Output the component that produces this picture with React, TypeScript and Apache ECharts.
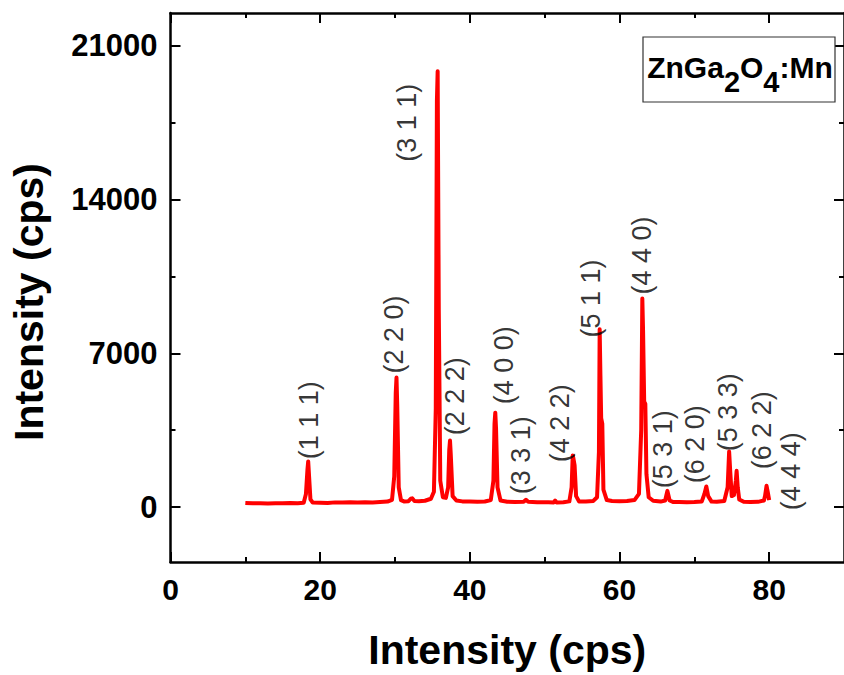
import React, { useEffect, useRef } from "react";
import * as echarts from "echarts";

// 2θ (deg) and intensity (cps)
const angles = [
  10.0, 11.0, 12.0, 13.0, 14.0, 15.0, 16.0, 17.0, 17.8, 18.1, 18.3, 18.4, 18.5, 18.7, 19.0,
  20.0, 21.0, 22.0, 23.0, 24.0, 25.0, 26.0, 27.0, 28.0, 29.0, 29.6, 29.9, 30.1, 30.2, 30.3,
  30.5, 30.8, 31.2, 31.8, 32.1, 32.3, 32.6, 33.2, 34.0, 34.8, 35.2, 35.45, 35.6, 35.7, 35.85,
  36.05, 36.4, 36.8, 37.1, 37.25, 37.35, 37.45, 37.7, 38.2, 39.0, 40.0, 41.0, 42.0, 42.8,
  43.15, 43.3, 43.4, 43.5, 43.7, 44.1, 45.0, 46.0, 47.2, 47.5, 47.8, 49.0, 50.5, 51.2, 51.4,
  51.6, 52.5, 53.3, 53.6, 53.75, 53.85, 54.0, 54.2, 54.6, 55.5, 56.5, 57.0, 57.25, 57.35,
  57.45, 57.55, 57.7, 57.85, 58.3, 59.0, 60.0, 61.0, 62.0, 62.6, 62.9, 63.05, 63.15, 63.3,
  63.45, 63.6, 63.9, 64.5, 65.5, 66.1, 66.4, 66.7, 67.2, 68.0, 69.0, 70.0, 71.0, 71.35, 71.6,
  71.85, 72.3, 73.0, 74.0, 74.45, 74.65, 74.8, 75.0, 75.3, 75.55, 75.65, 75.8, 76.0, 76.6,
  77.5, 78.5, 79.3, 79.45, 79.65, 79.8, 80.0,
];
const counts = [
  190, 170, 180, 165, 175, 170, 185, 180, 200, 600, 1700, 2080, 1500, 350, 210,
  200, 190, 215, 205, 220, 210, 225, 215, 230, 250, 330, 1400, 5200, 5900, 4600,
  900, 320, 260, 270, 380, 400, 280, 270, 290, 380, 700, 4500, 18500, 19850, 9000,
  1200, 450, 420, 900, 2600, 3030, 2400, 500, 300, 260, 250, 245, 255, 320,
  1200, 3800, 4300, 3600, 900, 300, 240, 235, 240, 330, 240, 225, 220, 215, 300,
  215, 220, 260, 900, 2350, 2200, 1900, 500, 260, 250, 280, 450, 2500, 8100,
  6000, 4050, 3800, 800, 320, 280, 270, 275, 320, 600, 3500, 9500, 8000, 4800,
  4700, 1500, 450, 290, 250, 300, 740, 300, 230, 230, 225, 230, 260, 600, 940,
  500, 250, 240, 280, 900, 2530, 1600, 500, 550, 1200, 1650, 900, 350, 240,
  230, 240, 300, 500, 970, 700, 320,
];

const hklLabels = [
  "(1 1 1)", "(2 2 0)", "(3 1 1)", "(2 2 2)", "(4 0 0)", "(3 3 1)", "(4 2 2)",
  "(5 1 1)", "(4 4 0)", "(5 3 1)", "(6 2 0)", "(5 3 3)", "(6 2 2)", "(4 4 4)",
];
const hklAngle = [18.46, 29.88, 31.64, 38.0, 44.6, 46.8, 52.07, 56.25, 63.02, 65.8, 70.1, 74.5, 79.1, 82.97];
const hklHeight = [3955, 7864, 17500, 5045, 6455, 2364, 3818, 9500, 11455, 2636, 2864, 4318, 3500, 1636];

const xMajorTicks = [0, 20, 40, 60, 80];
const xMinorTicks = [10, 30, 50, 70];
const yMajorTicks = [0, 7000, 14000, 21000];
const yMinorTicks = [3500, 10500, 17500];

const FONT = '"Liberation Sans", Arial, Helvetica, sans-serif';

export default function App() {
  const ref = useRef<HTMLDivElement>(null);
  useEffect(() => {
    const chart = echarts.init(ref.current!, null, { renderer: "svg" });

    const xAx = (pos: string, ticks: number[], len: number, labels: boolean, line: boolean, extra: any = {}) => ({
      type: "value",
      position: pos,
      min: 0,
      max: 90,
      gridIndex: 0,
      axisLine: { show: line, onZero: false, lineStyle: { color: "#000", width: 2.5 } },
      axisTick: { show: true, inside: true, length: len, customValues: ticks, lineStyle: { color: "#000", width: 2 } },
      axisLabel: labels
        ? {
            show: true,
            customValues: ticks,
            formatter: (v: number) => String(v),
            fontSize: 30,
            fontWeight: "bold",
            color: "#000",
            fontFamily: FONT,
            margin: 12,
          }
        : { show: false },
      splitLine: { show: false },
      ...extra,
    });
    const yAx = (pos: string, ticks: number[], len: number, labels: boolean, line: boolean) => ({
      type: "value",
      position: pos,
      min: -2500,
      max: 22500,
      gridIndex: 0,
      axisLine: { show: line, onZero: false, lineStyle: { color: "#000", width: 2.5 } },
      axisTick: { show: true, inside: true, length: len, customValues: ticks, lineStyle: { color: "#000", width: 2 } },
      axisLabel: labels
        ? {
            show: true,
            customValues: ticks,
            formatter: (v: number) => String(v),
            fontSize: 31,
            fontWeight: "bold",
            color: "#000",
            fontFamily: FONT,
            margin: 13,
          }
        : { show: false },
      splitLine: { show: false },
    });

    chart.setOption({
      animation: false,
      backgroundColor: "#fff",
      grid: { left: 170.5, top: 13, width: 681, height: 552, containLabel: false },
      xAxis: [
        xAx("bottom", xMajorTicks, 10, true, true, {
          name: "Intensity (cps)",
          nameLocation: "middle",
          nameGap: 67,
          nameTextStyle: { fontSize: 41, fontWeight: "bold", color: "#000", fontFamily: FONT },
        }),
        xAx("bottom", xMinorTicks, 5, false, false),
        xAx("top", xMajorTicks, 10, false, true),
        xAx("top", xMinorTicks, 5, false, false),
      ],
      yAxis: [
        yAx("left", yMajorTicks, 10, true, true),
        yAx("left", yMinorTicks, 5, false, false),
        yAx("right", yMajorTicks, 10, false, true),
        yAx("right", yMinorTicks, 5, false, false),
      ],
      series: [
        {
          type: "line",
          xAxisIndex: 0,
          yAxisIndex: 0,
          data: angles.map((a, i) => [a, counts[i]]),
          showSymbol: false,
          symbol: "none",
          lineStyle: { color: "#ff0000", width: 4, join: "round" },
          z: 3,
        },
        {
          type: "scatter",
          xAxisIndex: 0,
          yAxisIndex: 0,
          symbolSize: 1,
          silent: true,
          itemStyle: { color: "rgba(0,0,0,0)" },
          data: hklLabels.map((n, i) => ({ name: n, value: [hklAngle[i], hklHeight[i]] })),
          label: {
            show: true,
            position: "inside",
            rotate: 90,
            formatter: "{b}",
            fontSize: 27,
            color: "#000",
            fontFamily: FONT,
            align: "center",
            verticalAlign: "middle",
          },
          z: 5,
        },
      ],
      graphic: [
        {
          type: "text",
          x: 29,
          y: 302,
          rotation: Math.PI / 2,
          style: {
            text: "Intensity (cps)",
            fontSize: 41,
            fontWeight: "bold",
            fontFamily: FONT,
            fill: "#000",
            align: "center",
            verticalAlign: "middle",
          },
        },
        {
          type: "rect",
          shape: { x: 643, y: 37, width: 192, height: 65 },
          style: { fill: "#fff", stroke: "#333", lineWidth: 1.2 },
          z: 10,
        },
        {
          type: "text",
          x: 740,
          y: 74,
          z: 11,
          style: {
            text: "{a|ZnGa}{s|2}{a|O}{s|4}{a|:Mn}",
            align: "center",
            verticalAlign: "middle",
            fill: "#000",
            rich: {
              a: { fontSize: 30, fontWeight: "bold", fontFamily: FONT, lineHeight: 44, verticalAlign: "top", fill: "#000" },
              s: { fontSize: 29, fontWeight: "bold", fontFamily: FONT, lineHeight: 24, verticalAlign: "bottom", fill: "#000" },
            },
          },
        },
      ],
    });
    return () => chart.dispose();
  }, []);
  return <div ref={ref} style={{ position: "fixed", left: 0, top: 0, width: 844, height: 675 }} />;
}
